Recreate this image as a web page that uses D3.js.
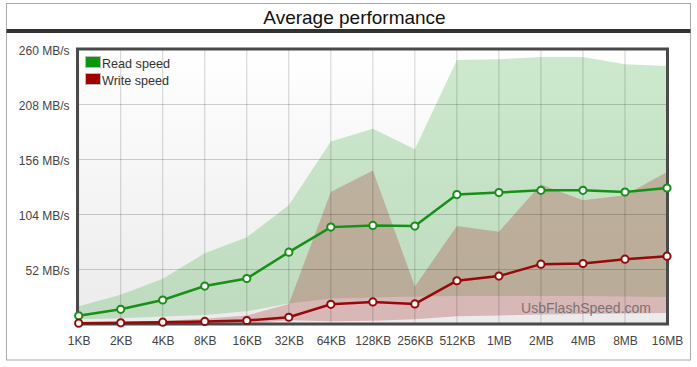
<!DOCTYPE html>
<html><head><meta charset="utf-8">
<script src="https://cdnjs.cloudflare.com/ajax/libs/d3/7.8.5/d3.min.js"></script>
<style>
html,body{margin:0;padding:0;background:#fff;}
svg{display:block;font-family:"Liberation Sans",Arial,sans-serif;}
</style></head>
<body><svg id="c" width="697" height="367"></svg>
<script>
const categories = ["1KB","2KB","4KB","8KB","16KB","32KB","64KB","128KB","256KB","512KB","1MB","2MB","4MB","8MB","16MB"];
const readAvg  = [7.7,13.9,22.7,35.9,43,67.9,91.6,93.2,92.6,122.4,124.3,126.4,126.4,124.8,128.6];
const readMin  = [4.5,5.5,7,8.5,12,19.5,24,25,26,26.5,26.5,26.5,26.5,26,25.5];
const readMax  = [16.7,27.7,42.8,66.9,82,112.3,172.5,184.7,165.3,249.6,250.2,252.4,252.4,245.5,243.9];
const writeAvg = [0.8,1.1,1.7,2.4,3.3,6.4,18.6,20.9,19,40.9,45.3,56.6,57.2,61.3,64.1];
const writeMin = [0,0,0,0,0.5,3.5,2.6,3,4.5,7.3,8,9,9.5,10,10.5];
const writeMax = [1.5,2,3,5,8,19,124.8,145.2,35.5,92.6,87.2,131.8,117,121.7,143.6];
const yTicks = [52,104,156,208,260];
const title = "Average performance";
const seriesNames = ["Read speed","Write speed"];
const watermark = "UsbFlashSpeed.com";

const svg = d3.select("#c");
const L = 77.5, R = 667.5, T = 49, B = 324;
const x = d3.scalePoint().domain(categories).range([78.7, 667]);
const y = d3.scaleLinear().domain([0,260]).range([B, T]);

// outer box
svg.append("rect").attr("x",6.5).attr("y",3.5).attr("width",684).attr("height",356.5)
  .attr("fill","#fff").attr("stroke","#aaa").attr("stroke-width",1);
svg.append("rect").attr("x",6.5).attr("y",29).attr("width",684).attr("height",4).attr("fill","#333");
svg.append("text").attr("x",354.5).attr("y",24).attr("text-anchor","middle")
  .attr("font-size",19).attr("fill","#111").text(title);

// plot background gradient
const defs = svg.append("defs");
const g = defs.append("linearGradient").attr("id","bg").attr("x1",0).attr("y1",0).attr("x2",0).attr("y2",1);
g.append("stop").attr("offset","0%").attr("stop-color","#ffffff");
g.append("stop").attr("offset","100%").attr("stop-color","#ebebeb");
svg.append("rect").attr("x",L).attr("y",T).attr("width",R-L).attr("height",B-T).attr("fill","url(#bg)");

// bands
const idx = d3.range(categories.length);
const area = (lo, hi) => d3.area().x(i => x(categories[i])).y0(i => y(lo[i])).y1(i => y(hi[i]));
svg.append("path").attr("d", area(readMin, readMax)(idx)).attr("fill","rgb(60,170,60)").attr("fill-opacity",0.25);
svg.append("path").attr("d", area(writeMin, writeMax)(idx)).attr("fill","rgb(170,60,60)").attr("fill-opacity",0.3);

// grid
svg.append("g").selectAll("line").data(categories).join("line")
  .attr("x1", d => x(d)).attr("x2", d => x(d)).attr("y1", T).attr("y2", B)
  .attr("stroke","rgba(0,0,0,0.18)").attr("stroke-width",1);
svg.append("g").selectAll("line").data(yTicks).join("line")
  .attr("x1", L).attr("x2", R).attr("y1", d => Math.round(y(d))+0.5).attr("y2", d => Math.round(y(d))+0.5)
  .attr("stroke","rgba(0,0,0,0.18)").attr("stroke-width",1);

// watermark
svg.append("text").attr("x",651).attr("y",313).attr("text-anchor","end")
  .attr("font-size",14).attr("fill","#666").attr("fill-opacity",0.85).text(watermark);

// frame
svg.append("rect").attr("x",L).attr("y",T).attr("width",R-L).attr("height",B-T)
  .attr("fill","none").attr("stroke","#4a4a4a").attr("stroke-width",3);

// axes
const ya = svg.append("g").attr("transform",`translate(${L-5},2)`)
  .call(d3.axisLeft(y).tickValues(yTicks).tickSize(0).tickFormat(d => d + " MB/s"));
ya.select(".domain").remove();
ya.selectAll("text").attr("font-size",12).attr("fill","#444").attr("font-family","Liberation Sans, Arial, sans-serif");
const xa = svg.append("g").attr("transform",`translate(0,${B+9})`)
  .call(d3.axisBottom(x).tickSize(0));
xa.select(".domain").remove();
xa.selectAll("text").attr("font-size",12).attr("fill","#444").attr("font-family","Liberation Sans, Arial, sans-serif");

// lines
const line = vals => d3.line().x(i => x(categories[i])).y(i => y(vals[i]));
const series = [{v: readAvg, c: "#169016"}, {v: writeAvg, c: "#990808"}];
series.forEach(s => {
  svg.append("path").attr("d", line(s.v)(idx)).attr("fill","none")
    .attr("stroke", s.c).attr("stroke-width",2.5);
  svg.append("g").selectAll("circle").data(idx).join("circle")
    .attr("cx", i => x(categories[i])).attr("cy", i => y(s.v[i])).attr("r",3.6)
    .attr("fill","#fff").attr("stroke", s.c).attr("stroke-width",2);
});

// legend
const legColors = ["#0a980a","#a00000"];
seriesNames.forEach((n,i) => {
  svg.append("rect").attr("x",85.5).attr("y",56.5 + i*17).attr("width",15).attr("height",11)
    .attr("fill",legColors[i]).attr("stroke","#bbb").attr("stroke-width",1);
  svg.append("text").attr("x",102).attr("y",68 + i*17).attr("font-size",12.6).attr("fill","#333").text(n);
});
</script></body></html>
